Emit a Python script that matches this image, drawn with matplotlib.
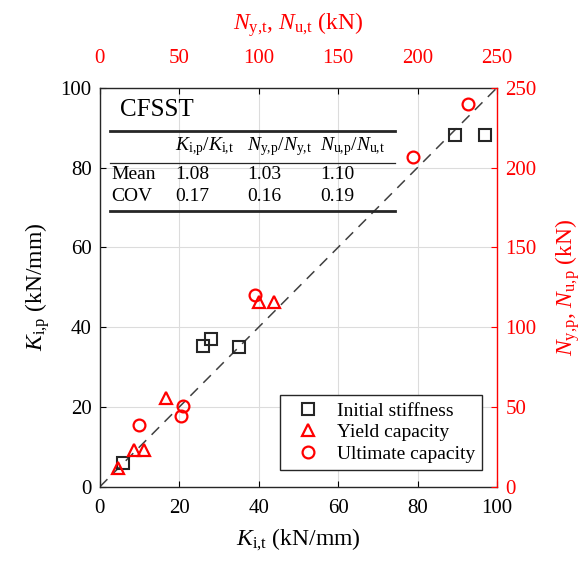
import numpy as np
import matplotlib
matplotlib.use("Agg")
import matplotlib.pyplot as plt
from matplotlib.lines import Line2D

plt.rcParams['font.family'] = ['Liberation Serif', 'DejaVu Serif']
plt.rcParams['mathtext.fontset'] = 'custom'
plt.rcParams['mathtext.rm'] = 'Liberation Serif'
plt.rcParams['mathtext.it'] = 'Liberation Serif:italic'

# initial stiffness (kN/mm): test vs predicted
k_test = [5.8, 25.9, 28.0, 35.0, 89.4, 97.0]
k_pred = [6.0, 35.3, 37.1, 35.1, 88.2, 88.2]
# yield capacity (kN)
ny_test = [11.5, 21.5, 27.8, 41.5, 100.0, 109.5]
ny_pred = [12.0, 23.3, 23.3, 55.8, 115.5, 115.5]
# ultimate capacity (kN)
nu_test = [24.5, 52.3, 51.0, 97.5, 197.0, 231.8]
nu_pred = [38.8, 50.3, 44.5, 120.3, 206.3, 240.0]

stat_cols = [r'$K_{\rm i{,}p}/K_{\rm i{,}t}$', r'$N_{\rm y{,}p}/N_{\rm y{,}t}$', r'$N_{\rm u{,}p}/N_{\rm u{,}t}$']
mean_vals = ['1.08', '1.03', '1.10']
cov_vals = ['0.17', '0.16', '0.19']

red = '#ff0000'
fig = plt.figure(figsize=(5.84, 5.66), dpi=100)
ax = fig.add_axes([0.171, 0.140, 0.680, 0.705])
ax.set_xlim(0, 100)
ax.set_ylim(0, 100)
ax.set_xticks(np.arange(0, 101, 20))
ax.set_yticks(np.arange(0, 101, 20))
ax.grid(True, color='#dcdcdc', lw=0.8)
ax.set_axisbelow(True)
ax.tick_params(direction='in', labelsize=15, top=True, length=4, width=0.8)
ax.tick_params(axis='x', pad=9)
ax.tick_params(axis='y', pad=6)
ax.spines['right'].set_visible(False)
for s in ['left', 'bottom', 'top']:
    ax.spines[s].set_linewidth(1.0)
    ax.spines[s].set_color('#262626')
ax.set_xlabel(r'$K_{\rm i{,}t}$ (kN/mm)', fontsize=17, labelpad=6)
ax.set_ylabel(r'$K_{\rm i{,}p}$ (kN/mm)', fontsize=17, labelpad=6)

ax.plot([0, 100], [0, 100], ls=(0, (7, 5)), color='#404040', lw=1.1, zorder=2)
ax.plot(k_test, k_pred, 's', ms=9, mfc='none', mec='#262626', mew=1.5, zorder=3)

ax2 = fig.add_axes(ax.get_position(), facecolor='none')
ax2.set_xlim(0, 250)
ax2.set_ylim(0, 250)
ax2.xaxis.tick_top()
ax2.xaxis.set_label_position('top')
ax2.yaxis.tick_right()
ax2.yaxis.set_label_position('right')
ax2.set_xticks(np.arange(0, 251, 50))
ax2.set_yticks(np.arange(0, 251, 50))
ax2.tick_params(axis='x', colors=red, length=0, labelsize=15, pad=14)
ax2.tick_params(axis='y', colors=red, direction='in', length=4, width=0.8, labelsize=15, pad=6)
for s in ['left', 'bottom', 'top']:
    ax2.spines[s].set_visible(False)
ax2.spines['right'].set_color(red)
ax2.spines['right'].set_linewidth(1.0)
ax2.set_xlabel(r'$N_{\rm y{,}t}$, $N_{\rm u{,}t}$ (kN)', fontsize=17, color=red, labelpad=14)
ax2.set_ylabel(r'$N_{\rm y{,}p}$, $N_{\rm u{,}p}$ (kN)', fontsize=17, color=red, labelpad=12)

ax2.plot(ny_test, ny_pred, '^', ms=9, mfc='none', mec=red, mew=1.6, zorder=3)
ax2.plot(nu_test, nu_pred, 'o', ms=8.5, mfc='none', mec=red, mew=1.6, zorder=3)

handles = [
    Line2D([], [], marker='s', ls='none', ms=9, mfc='none', mec='#262626', mew=1.5),
    Line2D([], [], marker='^', ls='none', ms=9, mfc='none', mec=red, mew=1.6),
    Line2D([], [], marker='o', ls='none', ms=8.5, mfc='none', mec=red, mew=1.6),
]
leg = ax2.legend(handles, ['Initial stiffness', 'Yield capacity', 'Ultimate capacity'],
                 loc='lower right', bbox_to_anchor=(0.963, 0.043), borderaxespad=0,
                 fontsize=14, fancybox=False, framealpha=1, edgecolor='#262626',
                 handlelength=2.2, handletextpad=0.4, labelspacing=0.2, borderpad=0.35)
leg.get_frame().set_linewidth(1.0)

# statistics table
tr = ax.transAxes
ax.text(0.05, 0.945, 'CFSST', transform=tr, fontsize=18, va='center', ha='left')
ax.plot([0.025, 0.743], [0.892, 0.892], transform=tr, color='#262626', lw=2.0, clip_on=False)
ax.plot([0.025, 0.743], [0.812, 0.812], transform=tr, color='#262626', lw=0.9, clip_on=False)
ax.plot([0.025, 0.743], [0.692, 0.692], transform=tr, color='#262626', lw=2.0, clip_on=False)
col_x = [0.189, 0.37, 0.554]
for cx, lab, m, c in zip(col_x, stat_cols, mean_vals, cov_vals):
    ax.text(cx, 0.852, lab, transform=tr, fontsize=14, va='center', ha='left')
    ax.text(cx, 0.782, m, transform=tr, fontsize=14, va='center', ha='left')
    ax.text(cx, 0.727, c, transform=tr, fontsize=14, va='center', ha='left')
ax.text(0.028, 0.782, 'Mean', transform=tr, fontsize=14, va='center', ha='left')
ax.text(0.028, 0.727, 'COV', transform=tr, fontsize=14, va='center', ha='left')

fig.savefig('out.png', dpi=100)
